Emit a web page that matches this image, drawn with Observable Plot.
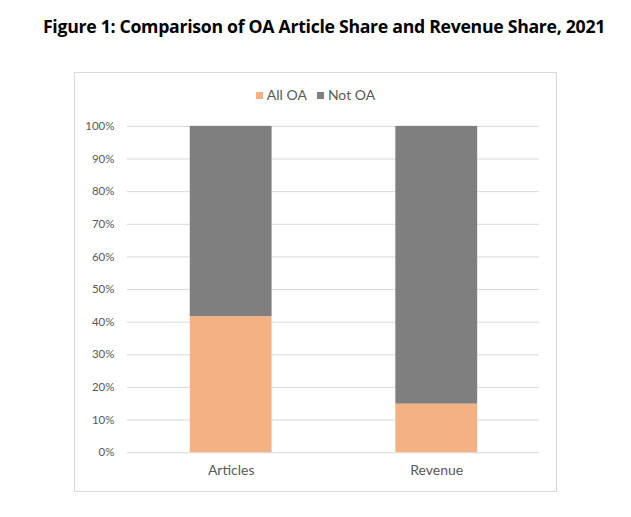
<!DOCTYPE html>
<html>
<head>
<meta charset="utf-8">
<script src="https://cdn.jsdelivr.net/npm/d3@7"></script>
<script src="https://cdn.jsdelivr.net/npm/@observablehq/plot@0.6"></script>
<style>
  html, body { margin: 0; padding: 0; background: #fff; }
  body { width: 631px; height: 517px; position: relative; overflow: hidden; font-family: Lato, "Open Sans", sans-serif; }
  #title { position: absolute; left: 0; width: 648px; top: 14px; text-align: center; font-weight: bold; font-size: 17.7px; color: #000; font-family: "Open Sans", Lato, sans-serif; letter-spacing: -0.3px; }
  #box { position: absolute; left: 74px; top: 72px; width: 481px; height: 418px; border: 1px solid #d9d9d9; }
  #legend { position: absolute; left: 0; width: 481px; top: 13px; text-align: center; font-size: 14px; color: #595959; }
  #legend span.sw { display: inline-block; width: 7px; height: 7px; margin-right: 4px; vertical-align: 1px; }
  #legend span.item { margin: 0 5px; }
  #chart { position: absolute; left: -1px; top: -1px; }
</style>
</head>
<body>
<div id="title">Figure 1: Comparison of OA Article Share and Revenue Share, 2021</div>
<div id="box">
  <div id="legend"></div>
  <div id="chart"></div>
</div>
<script>
const categories = ["Articles", "Revenue"];
const seriesNames = ["All OA", "Not OA"];
const allOA = [41.7, 14.9];
const notOA = [58.3, 85.1];
const yTicks = [0, 10, 20, 30, 40, 50, 60, 70, 80, 90, 100];
const colors = ["#F4B183", "#7F7F7F"];

const data = [];
categories.forEach((c, i) => {
  data.push({category: c, series: seriesNames[0], value: allOA[i]});
  data.push({category: c, series: seriesNames[1], value: notOA[i]});
});

const legend = document.getElementById("legend");
seriesNames.forEach((s, i) => {
  const item = document.createElement("span");
  item.className = "item";
  item.innerHTML = `<span class="sw" style="background:${colors[i]}"></span>${s}`;
  legend.appendChild(item);
});

const plot = Plot.plot({
  width: 483,
  height: 420,
  marginLeft: 53,
  marginRight: 17,
  marginTop: 54,
  marginBottom: 39,
  style: {fontFamily: "Lato, 'Open Sans', sans-serif", fontSize: "11px", color: "#595959", background: "transparent"},
  x: {domain: categories, label: null, paddingInner: 0.603, paddingOuter: 0.3015, axis: null},
  y: {domain: [0, 100], label: null, axis: null},
  color: {domain: seriesNames, range: colors},
  marks: [
    Plot.gridY(yTicks, {stroke: "#d9d9d9", strokeOpacity: 1, strokeWidth: 1}),
    Plot.axisY({ticks: yTicks, tickFormat: d => d + "%", tickSize: 0, tickPadding: 13, fontSize: 11.5, label: null}),
    Plot.axisX({tickSize: 0, tickPadding: 12, fontSize: 14, label: null}),
    Plot.barY(data, Plot.stackY({x: "category", y: "value", fill: "series", order: seriesNames})),
  ]
});
document.getElementById("chart").appendChild(plot);
</script>
</body>
</html>
